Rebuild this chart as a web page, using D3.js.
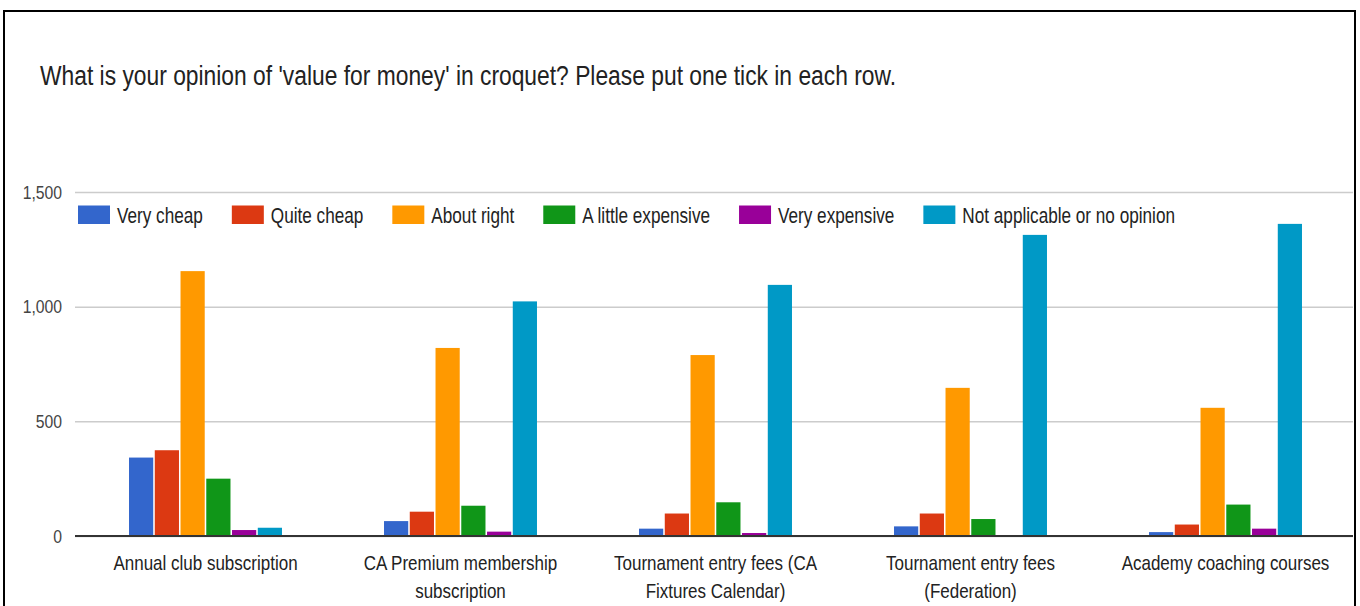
<!DOCTYPE html>
<html><head><meta charset="utf-8">
<script src="https://cdn.jsdelivr.net/npm/d3@7"></script>
<style>
html,body{margin:0;padding:0;background:#fff;}
svg{display:block;font-family:"Liberation Sans",Arial,sans-serif;}
</style></head>
<body><svg id="chart" width="1360" height="606"></svg>
<script>
const title = "What is your opinion of 'value for money' in croquet? Please put one tick in each row.";
const categories = [
  ["Annual club subscription"],
  ["CA Premium membership", "subscription"],
  ["Tournament entry fees (CA", "Fixtures Calendar)"],
  ["Tournament entry fees", "(Federation)"],
  ["Academy coaching courses"]
];
const seriesNames = ["Very cheap", "Quite cheap", "About right", "A little expensive", "Very expensive", "Not applicable or no opinion"];
const colors = ["#3366cc", "#dc3912", "#ff9900", "#109618", "#990099", "#0099c6"];
const veryCheap      = [342, 65, 32, 42, 17];
const quiteCheap     = [374, 106, 98, 98, 50];
const aboutRight     = [1155, 820, 789, 646, 559];
const littleExpensive= [250, 132, 147, 74, 137];
const veryExpensive  = [26, 19, 13, 0, 32];
const notApplicable  = [36, 1023, 1095, 1313, 1361];
const seriesValues = [veryCheap, quiteCheap, aboutRight, littleExpensive, veryExpensive, notApplicable];
const yTicks = [0, 500, 1000, 1500];

const svg = d3.select("#chart");
const plot = {left: 78, right: 1353, top: 192, bottom: 536};

// condensed text helper (reference glyphs are tall and narrow)
function ctext(parent, x, y, size, sx, str, anchor) {
  return parent.append("text")
    .attr("transform", `translate(${x},${y}) scale(${sx},1)`)
    .attr("font-size", size).attr("fill", "#222")
    .attr("text-anchor", anchor || "start").text(str);
}

// frame
svg.append("rect").attr("x", 4).attr("y", 11).attr("width", 1351).attr("height", 640)
  .attr("fill", "#fff").attr("stroke", "#000").attr("stroke-width", 2);

ctext(svg, 40, 84.5, 27.5, 0.83, title);

const y = d3.scaleLinear().domain([0, 1500]).range([plot.bottom, plot.top]);
const x0 = d3.scaleBand().domain(d3.range(categories.length)).range([plot.left, plot.right])
  .paddingInner(0.388).paddingOuter(0.194);
const x1 = d3.scaleBand().domain(d3.range(seriesNames.length)).range([0, x0.bandwidth()]).padding(0.06);

// gridlines
const yAxis = d3.axisLeft(y).tickValues(yTicks).tickFormat(d3.format(",")).tickSize(-(plot.right - 75)).tickPadding(12);
const gy = svg.append("g").attr("transform", `translate(75,0)`).call(yAxis);
gy.select(".domain").remove();
gy.selectAll(".tick line").attr("stroke", "#cccccc").attr("stroke-width", 1.5);
gy.selectAll(".tick text").remove();
gy.selectAll(".tick").each(function(d) {
  ctext(d3.select(this), -13, 6, 17.5, 0.9, d3.format(",")(d), "end").attr("fill", "#444");
});

// bars
const groups = svg.append("g").selectAll("g").data(categories).join("g")
  .attr("transform", (d, i) => `translate(${x0(i)},0)`);
groups.each(function(_, ci) {
  d3.select(this).selectAll("rect").data(seriesValues.map((s, si) => ({si, v: s[ci]})))
    .join("rect")
    .attr("x", d => x1(d.si)).attr("width", x1.bandwidth())
    .attr("y", d => y(d.v)).attr("height", d => y(0) - y(d.v))
    .attr("fill", d => colors[d.si]);
});

// baseline
svg.append("line").attr("x1", 75).attr("x2", plot.right).attr("y1", y(0)).attr("y2", y(0))
  .attr("stroke", "#333").attr("stroke-width", 2);

// x labels
const xa = svg.append("g");
categories.forEach((lines, i) => {
  lines.forEach((ln, k) => {
    ctext(xa, x0(i) + x0.bandwidth() / 2, 569.5 + k * 28, 20, 0.85, ln, "middle");
  });
});

// legend
const lg = svg.append("g");
let lx = 78;
const lsx = 0.78;
seriesNames.forEach((n, i) => {
  lg.append("rect").attr("x", lx).attr("y", 205.5).attr("width", 32).attr("height", 18.5).attr("fill", colors[i]);
  const t = ctext(lg, lx + 39, 222.5, 22, lsx, n);
  lx = lx + 39 + t.node().getComputedTextLength() * lsx + 29;
});
</script></body></html>
